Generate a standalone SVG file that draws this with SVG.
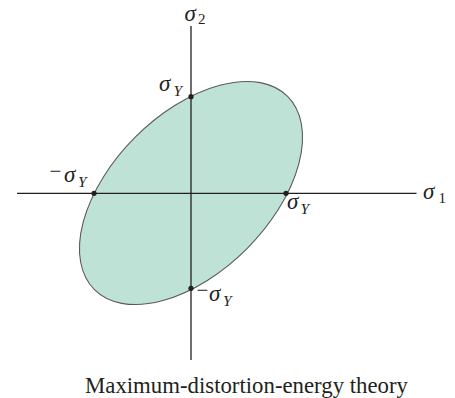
<svg xmlns="http://www.w3.org/2000/svg" width="455" height="398" viewBox="0 0 455 398">
<style>
.lbl{font-family:"Liberation Serif","Times New Roman",serif;fill:#231f20}
.sig{font-size:23px;font-style:italic}
.sub{font-size:15px}
.subi{font-size:15.5px;font-style:italic}
.min{font-size:21px}
.axis{stroke:#231f20;stroke-width:1.3;fill:none}
.dot{fill:#231f20}
</style>
<rect width="455" height="398" fill="#ffffff"/>
<g id="envelope">
<ellipse cx="191" cy="193" rx="136.6" ry="78.9" transform="rotate(-45 191 193)" fill="#bfe2d6" stroke="#5a5a5a" stroke-width="1.1"/>
</g>
<g id="connectors">
<line class="axis" x1="17" y1="193.3" x2="416.5" y2="193.3"/>
<line class="axis" x1="191" y1="26" x2="191" y2="360"/>
</g>
<g id="points">
<circle class="dot" cx="191" cy="96.7" r="2.6"/>
<circle class="dot" cx="94" cy="193.3" r="2.6"/>
<circle class="dot" cx="286" cy="193.3" r="2.6"/>
<circle class="dot" cx="191" cy="288.3" r="2.6"/>
</g>
<g id="label-sigma2" class="lbl">
<text class="sig" x="184.5" y="20.5">σ</text>
<text class="sub" x="198" y="23.5">2</text>
</g>
<g id="label-sigma1" class="lbl">
<text class="sig" x="423" y="199">σ</text>
<text class="sub" x="438.5" y="203">1</text>
</g>
<g id="label-top" class="lbl">
<text class="sig" x="159" y="91">σ</text>
<text class="subi" x="173.5" y="95.5">Y</text>
</g>
<g id="label-left" class="lbl">
<text class="min" x="49.5" y="177.5">−</text>
<text class="sig" x="64" y="182">σ</text>
<text class="subi" x="78" y="186.5">Y</text>
</g>
<g id="label-right" class="lbl">
<text class="sig" x="287" y="208.5">σ</text>
<text class="subi" x="300.5" y="213.5">Y</text>
</g>
<g id="label-bottom" class="lbl">
<text class="min" x="196.5" y="296.5">−</text>
<text class="sig" x="209" y="300.5">σ</text>
<text class="subi" x="223" y="305.5">Y</text>
</g>
<g id="caption" class="lbl">
<text x="246.5" y="393" text-anchor="middle" font-size="22.5" textLength="323" lengthAdjust="spacingAndGlyphs">Maximum-distortion-energy theory</text>
</g>
</svg>
